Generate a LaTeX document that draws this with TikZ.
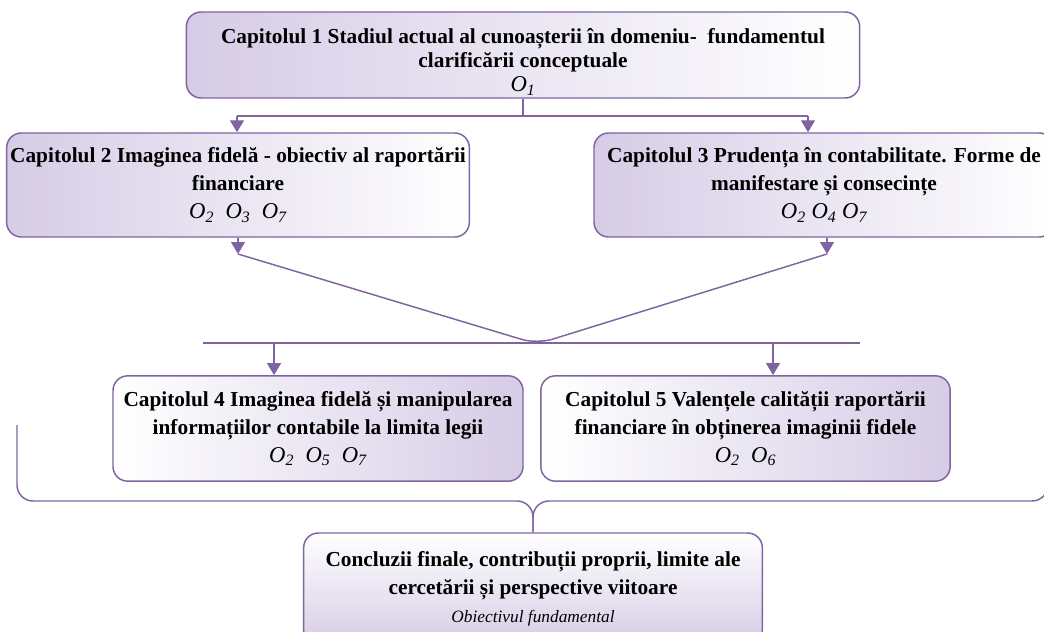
\documentclass[tikz,border=0pt]{standalone}
\usepackage{fontspec}
\setmainfont{Liberation Serif}
\usetikzlibrary{arrows.meta}

\definecolor{chapline}{RGB}{128,100,162}
\definecolor{chapfill}{RGB}{214,204,230}

\newcommand{\obj}[1]{{\normalfont\itshape\fontsize{17}{21}\selectfont #1}}

\begin{document}
\begin{tikzpicture}[x=0.75pt,y=-0.75pt,
  chapbox/.style={draw=chapline, line width=1.1pt, rounded corners=11pt, align=center,
    font=\bfseries\fontsize{16}{21}\selectfont, inner xsep=0pt, inner ysep=2pt},
  conn/.style={draw=chapline, line width=1.1pt},
  arr/.style={conn, -{Triangle[width=10.5pt,length=9pt]}}]

\useasboundingbox (0,0) rectangle (1044,631);
\clip (0,0) rectangle (1044,631);

% chapters
\node[chapbox, left color=chapfill, right color=white, minimum width=505pt, minimum height=64.5pt] (cap1) at (523,55) {};
\node[align=center, font=\bfseries\fontsize{16}{18}\selectfont, inner sep=0pt] (cap1txt) at (523,62)
  {Capitolul 1 Stadiul actual al cunoașterii în domeniu-~ fundamentul\\ clarificării conceptuale\\ \obj{O\textsubscript{1}}};
\node[chapbox, left color=chapfill, right color=white, minimum width=347pt, minimum height=78pt] (cap2) at (238,185)
  {Capitolul 2 Imaginea fidelă - obiectiv al raportării\\ financiare\\ \obj{O\textsubscript{2}~ O\textsubscript{3}~ O\textsubscript{7}}};
\node[chapbox, left color=chapfill, right color=white, minimum width=345pt, minimum height=78pt] (cap3) at (824,185)
  {Capitolul 3 Prudența în contabilitate. Forme de\\ manifestare și consecințe\\ \obj{O\textsubscript{2} O\textsubscript{4} O\textsubscript{7}}};
\node[chapbox, left color=white, right color=chapfill, minimum width=307.5pt, minimum height=79pt] (cap4) at (318,428.5)
  {Capitolul 4 Imaginea fidelă și manipularea\\ informațiilor contabile la limita legii\\ \obj{O\textsubscript{2}~ O\textsubscript{5}~ O\textsubscript{7}}};
\node[chapbox, left color=white, right color=chapfill, minimum width=307pt, minimum height=79pt] (cap5) at (745.5,428.5)
  {Capitolul 5 Valențele calității raportării\\ financiare în obținerea imaginii fidele\\ \obj{O\textsubscript{2}~ O\textsubscript{6}}};
\node[chapbox, top color=white, bottom color=chapfill, minimum width=344pt, minimum height=84pt] (concl) at (533,589)
  {Concluzii finale, contribuții proprii, limite ale\\ cercetării și perspective viitoare\\ {\normalfont\itshape\fontsize{13}{21}\selectfont Obiectivul fundamental}};

% connectors
\coordinate (t2) at (237,116);
\coordinate (t3) at (808,116);
\draw[conn] (cap1.south) -- (cap1.south |- t2);
\draw[conn] (t2) -- (t3);
\draw[arr] (t2) -- (t2 |- cap2.north);
\draw[arr] (t3) -- (t3 |- cap3.north);

\coordinate (v2) at (238,254);
\coordinate (v3) at (827,254);
\coordinate (vbot) at (537,344);
\draw[arr] (cap2.south) -- (v2);
\draw[arr] (v3 |- cap3.south) -- (v3);
\draw[conn, rounded corners=12pt] (v2) -- (vbot) -- (v3);

\coordinate (h4) at (274,343);
\coordinate (h5) at (773,343);
\draw[conn] (203,343) -- (860,343);
\draw[arr] (h4) -- (h4 |- cap4.north);
\draw[arr] (h5) -- (h5 |- cap5.north);

\coordinate (bl) at (17,425);
\coordinate (br) at (1048,488);
\coordinate (bmid) at (533,501);
\draw[conn, rounded corners=12pt] (bl) |- (bmid) -- (concl.north);
\draw[conn, rounded corners=12pt] (br) |- (bmid) -- (concl.north);

\end{tikzpicture}
\end{document}
